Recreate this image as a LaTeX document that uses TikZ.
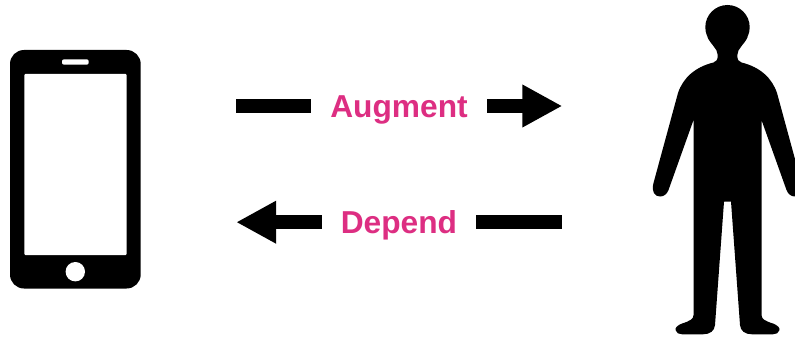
\documentclass[tikz,border=0pt]{standalone}
\usepackage{fontspec}
\setmainfont{Liberation Sans}
\usetikzlibrary{arrows.meta}
\definecolor{labelpink}{HTML}{DD2E82}
\tikzset{
  x=1pt,y=-1pt,
  linklabel/.style={inner sep=0pt,outer sep=0pt,text=labelpink,align=center,
    font=\fontsize{31.7}{36}\selectfont\bfseries,text depth=7pt},
  linkbar/.style={draw=black,line width=13.5pt},
  linktip/.style={linkbar,-{Triangle[length=40pt,width=40pt]}},
  silhouette/.style={fill=black,draw=none},
  cutout/.style={fill=white,draw=none}
}
\begin{document}
\begin{tikzpicture}
\path[clip] (0,0) rectangle (795,337);
\fill[white] (0,0) rectangle (795,337);
% phone
\fill[silhouette,rounded corners=14pt] (10,50) rectangle (140.7,288.5);
\fill[cutout,rounded corners=1pt] (24.3,74) rectangle (126.7,255);
\fill[cutout,rounded corners=2pt] (62,59.3) rectangle (88.7,64.7);
\fill[cutout] (75.3,271.7) circle[radius=9.7];
% person
\fill[silhouette] (727.5,27.2) circle[radius=22.2];
\fill[silhouette] (707.5,37)
  .. controls (710.5,44.5) and (717.7,48.5) .. (717.7,55)
  .. controls (717.7,60) and (716.5,61.5) .. (713.5,62.5)
  .. controls (695,67) and (683,78) .. (678,93)
  -- (653.5,183)
  .. controls (651,192) and (655,196.5) .. (660,196.5)
  .. controls (664,196.5) and (667,194) .. (668.5,190)
  -- (693.5,120) -- (693.5,315)
  .. controls (693.5,319) and (690,321) .. (682,323.5)
  .. controls (677,325.5) and (675,328) .. (675.5,330)
  .. controls (676,333) and (679,334.3) .. (682,334.3)
  -- (703,334.3)
  .. controls (710,334.3) and (714.5,331) .. (715,325)
  -- (724,201.7) -- (731,201.7) -- (740,325)
  .. controls (740.5,331) and (745,334.3) .. (752,334.3)
  -- (773,334.3)
  .. controls (776,334.3) and (779,333) .. (779.5,330)
  .. controls (780,328) and (778,325.5) .. (773,323.5)
  .. controls (765,321) and (761.5,319) .. (761.5,315)
  -- (761.5,120) -- (786.5,190)
  .. controls (788,194) and (791,196.5) .. (795,196.5)
  .. controls (800,196.5) and (804,192) .. (801.5,183)
  -- (777,93)
  .. controls (772,78) and (760,67) .. (741.5,62.5)
  .. controls (738.5,61.5) and (737.3,60) .. (737.3,55)
  .. controls (737.3,48.5) and (744.5,44.5) .. (747.5,37)
  -- cycle;
% labels
\node[linklabel,minimum width=176pt,text height=30.4pt] (augment) at (399,106) {Augment};
\node[linklabel,minimum width=154.3pt,text height=29.2pt] (depend) at (398.9,222.2) {Depend};
% connectors
\coordinate (augstart) at (236,106);
\coordinate (augtip) at (562.3,106);
\coordinate (depstart) at (561.7,222.2);
\coordinate (deptip) at (236.2,222.2);
\draw[linkbar] (augstart) -- (augment.west);
\draw[linktip] (augment.east) -- (augtip);
\draw[linkbar] (depstart) -- (depend.east);
\draw[linktip] (depend.west) -- (deptip);
\end{tikzpicture}
\end{document}
